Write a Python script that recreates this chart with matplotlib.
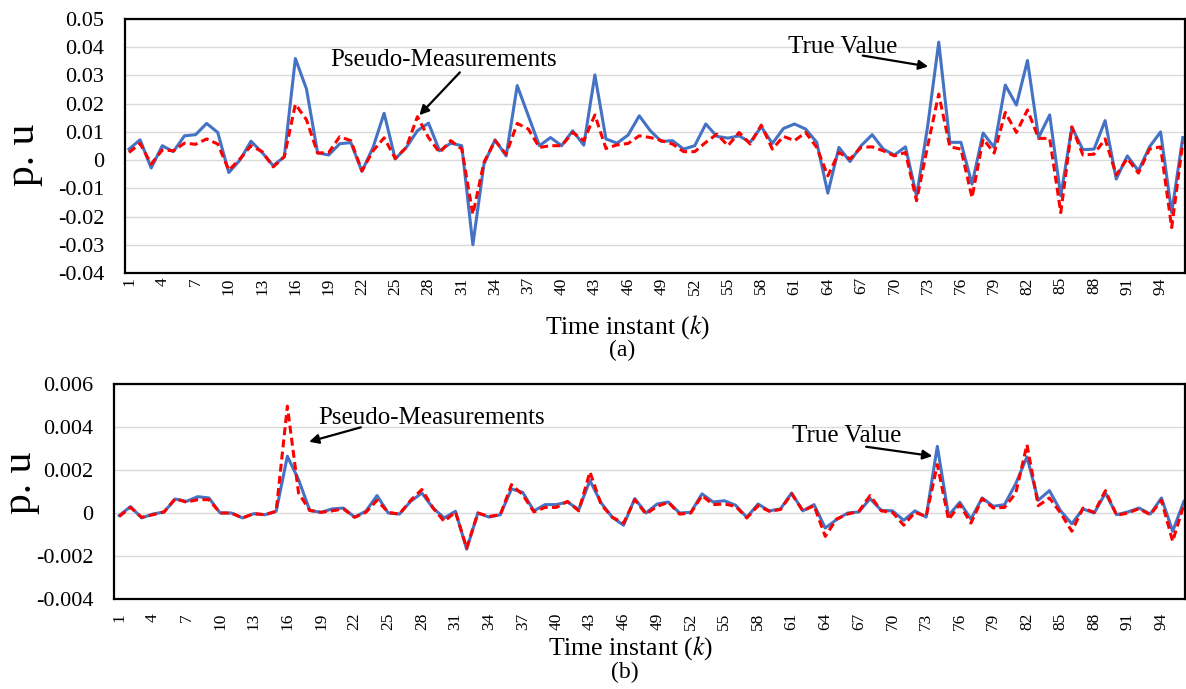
import numpy as np
import matplotlib
matplotlib.use("Agg")
import matplotlib.pyplot as plt

plt.rcParams['font.family'] = ['Liberation Serif', 'DejaVu Serif']
plt.rcParams['mathtext.fontset'] = 'stix'

# time instants
k = np.arange(1, 97)

# (a) values
true_a = [0.0039, 0.0072, -0.0028, 0.0051, 0.0030, 0.0086, 0.0090, 0.0130, 0.0098, -0.0044,
          0.0000, 0.0067, 0.0027, -0.0020, 0.0012, 0.0360, 0.0252, 0.0026, 0.0018, 0.0058,
          0.0062, -0.0040, 0.0045, 0.0166, 0.0004, 0.0045, 0.0104, 0.0131, 0.0033, 0.0060,
          0.0051, -0.0300, -0.0014, 0.0072, 0.0015, 0.0264, 0.0157, 0.0051, 0.0080, 0.0051,
          0.0104, 0.0053, 0.0302, 0.0075, 0.0060, 0.0089, 0.0157, 0.0104, 0.0066, 0.0069,
          0.0039, 0.0051, 0.0128, 0.0084, 0.0078, 0.0086, 0.0063, 0.0118, 0.0059, 0.0112,
          0.0128, 0.0110, 0.0063, -0.0117, 0.0045, -0.0005, 0.0051, 0.0090, 0.0039, 0.0018,
          0.0047, -0.0127, 0.0120, 0.0418, 0.0063, 0.0063, -0.0085, 0.0096, 0.0045, 0.0266,
          0.0195, 0.0353, 0.0080, 0.0160, -0.0127, 0.0116, 0.0037, 0.0039, 0.0140, -0.0067,
          0.0015, -0.0038, 0.0047, 0.0100, -0.0186, 0.0080]
pseudo_a = [0.0027, 0.0059, -0.0014, 0.0036, 0.0033, 0.0060, 0.0056, 0.0075, 0.0057, -0.0036,
            0.0004, 0.0051, 0.0030, -0.0024, 0.0012, 0.0198, 0.0143, 0.0025, 0.0027, 0.0083,
            0.0069, -0.0038, 0.0033, 0.0079, 0.0006, 0.0045, 0.0154, 0.0080, 0.0027, 0.0069,
            0.0039, -0.0192, -0.0008, 0.0069, 0.0021, 0.0130, 0.0110, 0.0045, 0.0051, 0.0051,
            0.0098, 0.0069, 0.0160, 0.0041, 0.0054, 0.0059, 0.0086, 0.0080, 0.0069, 0.0057,
            0.0030, 0.0030, 0.0063, 0.0092, 0.0051, 0.0098, 0.0057, 0.0124, 0.0039, 0.0084,
            0.0069, 0.0098, 0.0045, -0.0056, 0.0027, 0.0004, 0.0045, 0.0047, 0.0033, 0.0015,
            0.0027, -0.0144, 0.0050, 0.0234, 0.0047, 0.0039, -0.0133, 0.0075, 0.0025, 0.0169,
            0.0098, 0.0178, 0.0077, 0.0077, -0.0186, 0.0118, 0.0018, 0.0021, 0.0075, -0.0053,
            0.0006, -0.0046, 0.0039, 0.0047, -0.0239, 0.0063]

# (b) values
true_b = [-0.00012, 0.00030, -0.00023, -0.00005, 0.00005, 0.00065, 0.00054, 0.00076, 0.00070, 0.0,
          0.0, -0.00023, -0.00003, -0.00008, 0.00008, 0.00264, 0.00155, 0.00012, 0.00003, 0.00019,
          0.00023, -0.00019, 0.00008, 0.00081, 0.0, -0.00005, 0.00054, 0.00093, 0.00023, -0.00023,
          0.00008, -0.00168, 0.0, -0.00019, -0.00008, 0.00112, 0.00096, 0.00010, 0.00039, 0.00039,
          0.00051, 0.00016, 0.00151, 0.00047, -0.00020, -0.00057, 0.00067, 0.0, 0.00042, 0.00051,
          0.0, 0.00003, 0.00089, 0.00051, 0.00057, 0.00036, -0.00020, 0.00042, 0.00010, 0.00019,
          0.00093, 0.00010, 0.00039, -0.00070, -0.00031, 0.0, 0.00005, 0.00067, 0.00012, 0.00010,
          -0.00034, 0.00010, -0.00019, 0.00310, -0.00012, 0.00050, -0.00028, 0.00070, 0.00031, 0.00039,
          0.00137, 0.00261, 0.00059, 0.00104, 0.00010, -0.00050, 0.00019, 0.0, 0.00093, -0.00008,
          0.00005, 0.00023, -0.00005, 0.00070, -0.00085, 0.00054]
pseudo_b = [-0.00016, 0.00026, -0.00020, -0.00008, 0.00005, 0.00067, 0.00050, 0.00062, 0.00062, 0.0,
            0.0, -0.00023, -0.00003, -0.00008, 0.00008, 0.00497, 0.00093, 0.00012, 0.00003, 0.00010,
            0.00019, -0.00020, 0.00003, 0.00059, 0.00003, -0.00005, 0.00059, 0.00109, 0.00023, -0.00039,
            0.00005, -0.00163, 0.0, -0.00016, -0.00008, 0.00132, 0.00085, 0.00005, 0.00026, 0.00026,
            0.00054, 0.00010, 0.00191, 0.00039, -0.00020, -0.00047, 0.00062, -0.00005, 0.00031, 0.00050,
            -0.00005, 0.0, 0.00081, 0.00039, 0.00042, 0.00031, -0.00023, 0.00034, 0.00008, 0.00016,
            0.00089, 0.00010, 0.00034, -0.00109, -0.00028, -0.00005, 0.00008, 0.00081, 0.00010, 0.00003,
            -0.00057, 0.00003, -0.00016, 0.00225, -0.00031, 0.00039, -0.00047, 0.00067, 0.00023, 0.00026,
            0.00093, 0.00318, 0.00034, 0.00070, 0.0, -0.00085, 0.00023, 0.00003, 0.00104, -0.00011,
            0.0, 0.00020, -0.00008, 0.00059, -0.00132, 0.00039]

# axis ticks
xticks = list(range(1, 97, 3))
yticks_a = [-0.04, -0.03, -0.02, -0.01, 0, 0.01, 0.02, 0.03, 0.04, 0.05]
ylabels_a = ['-0.04', '-0.03', '-0.02', '-0.01', '0', '0.01', '0.02', '0.03', '0.04', '0.05']
yticks_b = [-0.004, -0.002, 0, 0.002, 0.004, 0.006]
ylabels_b = ['-0.004', '-0.002', '0', '0.002', '0.004', '0.006']

W, H = 1186, 689
fig = plt.figure(figsize=(W / 100, H / 100), dpi=100)


def box(l, t, r, b):
    return [l / W, 1 - b / H, (r - l) / W, (b - t) / H]


def style(ax, yt, yl, xlim, xpad):
    ax.set_xlim(*xlim)
    ax.set_ylim(yt[0], yt[-1])
    ax.set_yticks(yt, yl)
    ax.set_xticks(xticks, [str(t) for t in xticks], rotation=90)
    ax.tick_params(axis='y', length=0, pad=15, labelsize=16)
    ax.tick_params(axis='x', length=0, pad=xpad, labelsize=12.5)
    ax.grid(axis='y', color='#d9d9d9', lw=1)
    ax.set_axisbelow(True)
    for s in ax.spines.values():
        s.set_linewidth(1.6)
        s.set_color('black')
    ax.set_ylabel('p. u', fontsize=30)


blue = '#4472C4'
red = '#FF0000'
arrow = dict(arrowstyle='-|>', color='black', lw=1.6, mutation_scale=14)

ax1 = fig.add_axes(box(125, 19, 1185, 273))
ax1.plot(k, true_a, color=blue, lw=2.2)
ax1.plot(k, pseudo_a, color=red, lw=2.2, ls=(0, (2.6, 1.4)))
style(ax1, yticks_a, ylabels_a, (0.64, 96.2), 3)
ax1.yaxis.set_label_coords(-0.077, 0.465)

ax1.text(29.4, 0.0355, 'Pseudo-Measurements', fontsize=18, ha='center', va='center')
ax1.annotate('', xy=(27.0, 0.0152), xytext=(31.0, 0.0318), arrowprops=arrow)
ax1.text(65.3, 0.0400, 'True Value', fontsize=18, ha='center', va='center')
ax1.annotate('', xy=(73.3, 0.0330), xytext=(66.9, 0.0372), arrowprops=arrow)

ax2 = fig.add_axes(box(114, 384, 1185, 599))
ax2.plot(k, true_b, color=blue, lw=2.2)
ax2.plot(k, pseudo_b, color=red, lw=2.2, ls=(0, (2.6, 1.4)))
style(ax2, yticks_b, ylabels_b, (0.53, 96.1), 10)
ax2.yaxis.set_label_coords(-0.069, 0.54)

ax2.text(28.9, 0.00444, 'Pseudo-Measurements', fontsize=18, ha='center', va='center')
ax2.annotate('', xy=(17.7, 0.00328), xytext=(22.8, 0.00402), arrowprops=arrow)
ax2.text(65.9, 0.00356, 'True Value', fontsize=18, ha='center', va='center')
ax2.annotate('', xy=(73.8, 0.00263), xytext=(67.4, 0.00310), arrowprops=arrow)

# axis titles and panel letters
fig.text(628 / W, 1 - 327 / H, 'Time instant ($k$)', fontsize=18.5, ha='center', va='center')
fig.text(622 / W, 1 - 350 / H, '(a)', fontsize=17, ha='center', va='center')
fig.text(631 / W, 1 - 648 / H, 'Time instant ($k$)', fontsize=18.5, ha='center', va='center')
fig.text(625 / W, 1 - 672 / H, '(b)', fontsize=17, ha='center', va='center')

fig.savefig('out.png', dpi=100)
